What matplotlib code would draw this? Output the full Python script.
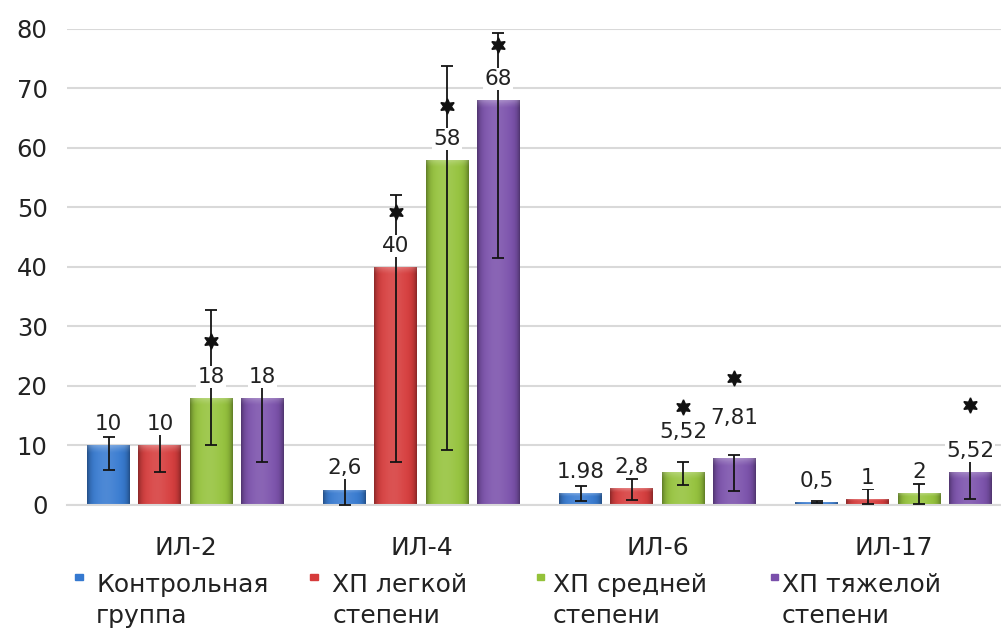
import numpy as np
import matplotlib
matplotlib.use("Agg")
import matplotlib.pyplot as plt
from matplotlib.colors import to_rgb

# cytokine groups and patient series
groups = ["ИЛ-2", "ИЛ-4", "ИЛ-6", "ИЛ-17"]
series = ["Контрольная\nгруппа", "ХП легкой\nстепени", "ХП средней\nстепени", "ХП тяжелой\nстепени"]

# mean values, one row per series (columns follow groups)
control = [10, 2.6, 1.98, 0.5]
mild = [10, 40, 2.8, 1]
moderate = [18, 58, 5.52, 2]
severe = [18, 68, 7.81, 5.52]

# value labels as printed above the bars
label_control = ["10", "2,6", "1.98", "0,5"]
label_mild = ["10", "40", "2,8", "1"]
label_moderate = ["18", "58", "5,52", "2"]
label_severe = ["18", "68", "7,81", "5,52"]

# error bar ends (low, high)
err_lo_control = [5.9, 0.0, 0.6, 0.3]
err_hi_control = [11.5, 4.5, 3.2, 0.7]
err_lo_mild = [5.6, 7.3, 0.8, 0.2]
err_hi_mild = [12.1, 52.1, 4.4, 2.7]
err_lo_moderate = [10.1, 9.2, 3.4, 0.2]
err_hi_moderate = [32.8, 73.7, 7.3, 3.5]
err_lo_severe = [7.3, 41.5, 2.3, 1.0]
err_hi_severe = [20.2, 79.3, 8.4, 7.8]

# significance marks: (group index, series index, height)
stars = [(0, 2, 27.5), (1, 1, 49.3), (1, 2, 67.0), (1, 3, 77.3),
         (2, 2, 16.5), (2, 3, 21.3), (3, 3, 16.8)]

values = [control, mild, moderate, severe]
labels = [label_control, label_mild, label_moderate, label_severe]
err_lo = [err_lo_control, err_lo_mild, err_lo_moderate, err_lo_severe]
err_hi = [err_hi_control, err_hi_mild, err_hi_moderate, err_hi_severe]

colors = ["#3579d0", "#d63b3b", "#94c23a", "#7a50ab"]
label_nudge = {(2, 2): 14, (2, 3): 14}

fig = plt.figure(figsize=(10.01, 6.34), dpi=100)
ax = fig.add_axes([0.067, 0.2035, 0.933, 0.751])

x = np.arange(len(groups))
pitch = 0.217
width = 0.182


def shaded_bar(ax, xc, h, color):
    # soft cylinder shading plus a lighter rim at the top, clipped to the bar
    rect = ax.bar(xc, h, width, color=color, zorder=2, linewidth=0)[0]
    base = np.array(to_rgb(color))
    t = np.linspace(0, 1, 64)
    light = np.exp(-((t - 0.45) / 0.3) ** 2) * 0.12
    dark = (np.abs(t - 0.5) * 2) ** 6 * 0.35
    cols = base[None, :] * (1 - dark[:, None]) + (1 - base[None, :]) * light[:, None]
    img = np.clip(cols, 0, 1)[None, :, :]
    im = ax.imshow(img, extent=[xc - width / 2, xc + width / 2, 0, h],
                   aspect="auto", zorder=2.1, interpolation="bilinear")
    im.set_clip_path(rect)
    # top rim fading downwards
    rim = min(1.4, h * 0.3)
    a = np.linspace(0.0, 0.28, 16) ** 1.5 / 0.28 ** 0.5
    top = np.zeros((16, 64, 4))
    top[..., :3] = 1.0
    top[..., 3] = a[:, None] * (1 - dark[None, :])
    im2 = ax.imshow(top, extent=[xc - width / 2, xc + width / 2, h - rim, h],
                    origin="lower", aspect="auto", zorder=2.2,
                    interpolation="bilinear")
    im2.set_clip_path(rect)
    return rect


for s in range(len(series)):
    xs = x + (s - 1.5) * pitch
    for g in range(len(groups)):
        shaded_bar(ax, xs[g], values[s][g], colors[s])
    v = np.array(values[s])
    yerr = [v - np.array(err_lo[s]), np.array(err_hi[s]) - v]
    ax.errorbar(xs, v, yerr=yerr, fmt="none", ecolor="#141414", elinewidth=1.3,
                capsize=4.5, capthick=1.3, zorder=3, clip_on=False)
    for g in range(len(groups)):
        off = 8 + label_nudge.get((g, s), 0)
        ax.annotate(labels[s][g], (xs[g], values[s][g]), xytext=(0, off),
                    textcoords="offset points", ha="center", va="bottom",
                    fontsize=15.5, color="#222222", zorder=4, annotation_clip=False,
                    bbox=dict(boxstyle="square,pad=0.05", fc="white", ec="none"))

for g, s, h in stars:
    ax.plot(x[g] + (s - 1.5) * pitch, h, marker=(6, 1, 0), markersize=11,
            color="#111111", zorder=5, clip_on=False, linestyle="none")

ax.set_ylim(0, 80)
ax.set_xlim(-0.502, 3.456)
ax.set_yticks(np.arange(0, 81, 10))
ax.set_xticks(x)
ax.set_xticklabels(groups, fontsize=18, color="#222222")
ax.tick_params(axis="x", length=0, pad=22)
ax.tick_params(axis="y", length=0, pad=14, labelsize=17.5, labelcolor="#222222")
ax.grid(axis="y", color="#d9d9d9", linewidth=1.5, zorder=0)
ax.set_axisbelow(True)
for side in ["left", "right", "top"]:
    ax.spines[side].set_visible(False)
ax.spines["bottom"].set_color("#d9d9d9")
ax.spines["bottom"].set_linewidth(1.5)

# legend laid out in one row under the categories
marker_x = [0.075, 0.310, 0.536, 0.770]
text_x = [0.096, 0.332, 0.552, 0.781]
for s in range(len(series)):
    fig.add_artist(plt.Rectangle((marker_x[s], 0.085), 0.0075, 0.0095,
                                 transform=fig.transFigure, color=colors[s]))
    fig.text(text_x[s], 0.097, series[s], ha="left", va="top",
             fontsize=18, color="#222222", linespacing=1.4)

fig.savefig("out.png", dpi=100)
